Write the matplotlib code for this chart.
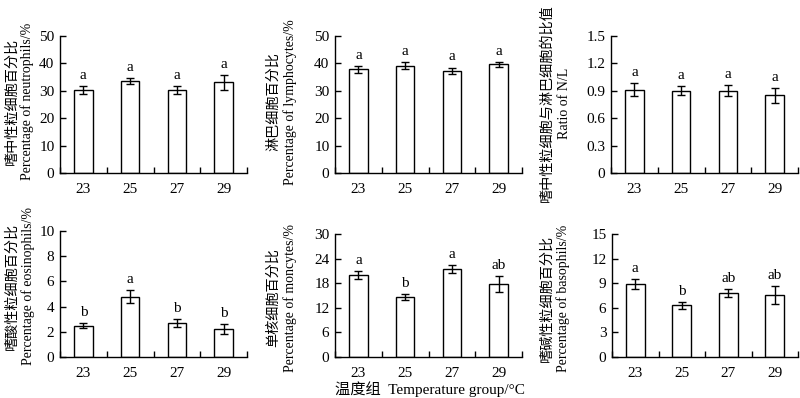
import numpy as np
import matplotlib.pyplot as plt
from matplotlib.ticker import FixedLocator

# フォント設定
serif_cjk = ['Liberation Serif', 'Noto Sans CJK SC']
plt.rcParams['font.family'] = serif_cjk
plt.rcParams['axes.linewidth'] = 1.0

# データ
groups = ['23', '25', '27', '29']

neu_mean = [30.2, 33.6, 30.2, 33.1]
neu_err = [1.4, 1.2, 1.5, 2.8]
neu_sig = ['a', 'a', 'a', 'a']

lym_mean = [37.8, 39.2, 37.3, 39.6]
lym_err = [1.3, 1.2, 1.2, 1.0]
lym_sig = ['a', 'a', 'a', 'a']

nl_mean = [0.91, 0.90, 0.90, 0.85]
nl_err = [0.07, 0.05, 0.06, 0.08]
nl_sig = ['a', 'a', 'a', 'a']

eos_mean = [2.5, 4.8, 2.7, 2.2]
eos_err = [0.2, 0.5, 0.3, 0.4]
eos_sig = ['b', 'a', 'b', 'b']

mon_mean = [20.0, 14.7, 21.4, 17.8]
mon_err = [1.0, 0.7, 1.0, 2.0]
mon_sig = ['a', 'b', 'a', 'ab']

bas_mean = [8.9, 6.3, 7.8, 7.6]
bas_err = [0.6, 0.4, 0.5, 1.1]
bas_sig = ['a', 'b', 'ab', 'ab']

panels = [
    (neu_mean, neu_err, neu_sig, 50, 10, '嗜中性粒细胞百分比', 'Percentage of neutrophils/%', '%g'),
    (lym_mean, lym_err, lym_sig, 50, 10, '淋巴细胞百分比', 'Percentage of lymphocytes/%', '%g'),
    (nl_mean, nl_err, nl_sig, 1.5, 0.3, '嗜中性粒细胞与淋巴细胞的比值', 'Ratio of N/L', '%.1f'),
    (eos_mean, eos_err, eos_sig, 10, 2, '嗜酸性粒细胞百分比', 'Percentage of eosinophils/%', '%g'),
    (mon_mean, mon_err, mon_sig, 30, 6, '单核细胞百分比', 'Percentage of moncytes/%', '%g'),
    (bas_mean, bas_err, bas_sig, 15, 3, '嗜碱性粒细胞百分比', 'Percentage of basophils/%', '%g'),
]

# 各パネルの位置 (ピクセル): 左, 右, 上, 下
W, H = 800, 398
rects = [
    (60, 247, 36, 173), (335, 522, 36, 173), (611, 798, 36, 173),
    (60, 247, 231, 357), (335, 522, 234, 357), (612, 798, 234, 357),
]
# 縦軸ラベルの位置 (中文x, 英文x, 中心y)
label_pos = [
    (12, 27, 101), (273, 290, 102), (547, 565, 103),
    (12, 28, 286), (273, 290, 298), (547, 563, 298),
]

fig = plt.figure(figsize=(8, 3.98), dpi=100)

x = np.arange(len(groups)) + 0.5
for (mean, err, sig, ymax, step, cn, en, fmt), (l, r, t, b), (cx, ex, cy) in zip(panels, rects, label_pos):
    ax = fig.add_axes([l / W, 1 - b / H, (r - l) / W, (b - t) / H])
    ax.bar(x, mean, width=0.4, color='white', edgecolor='black', linewidth=1.0, zorder=2)
    ax.errorbar(x, mean, yerr=err, fmt='none', ecolor='black', elinewidth=1.0,
                capsize=3, capthick=1.0, zorder=3)
    for xi, m, e, s in zip(x, mean, err, sig):
        ax.text(xi, m + e + ymax * 0.03, s, ha='center', va='bottom', fontsize=11)
    ax.set_xlim(0, 4)
    ax.set_ylim(0, ymax)
    ticks = np.arange(0, ymax + step / 2, step)
    ax.set_yticks(ticks)
    ax.set_yticklabels(['0'] + [fmt % v for v in ticks[1:]])
    ax.set_xticks(x)
    ax.set_xticklabels(groups)
    ax.xaxis.set_minor_locator(FixedLocator([0, 1, 2, 3, 4]))
    ax.tick_params(axis='x', which='major', length=0, pad=7, labelsize=11)
    ax.tick_params(axis='x', which='minor', direction='in', length=4, width=1.0)
    ax.tick_params(axis='y', direction='in', length=4, width=1.0, labelsize=11, pad=4)
    ax.spines['top'].set_visible(False)
    ax.spines['right'].set_visible(False)
    fig.text(cx / W, 1 - cy / H, cn, rotation=90, ha='center', va='center',
             fontsize=10.2, family=['Noto Sans CJK SC', 'DejaVu Sans'], weight='medium')
    fig.text(ex / W, 1 - cy / H, en, rotation=90, ha='center', va='center', fontsize=10)

fig.text(430 / W, 1 - 389 / H, '温度组  Temperature group/°C', ha='center', va='center',
         fontsize=11)

plt.savefig('out.png', dpi=100)
